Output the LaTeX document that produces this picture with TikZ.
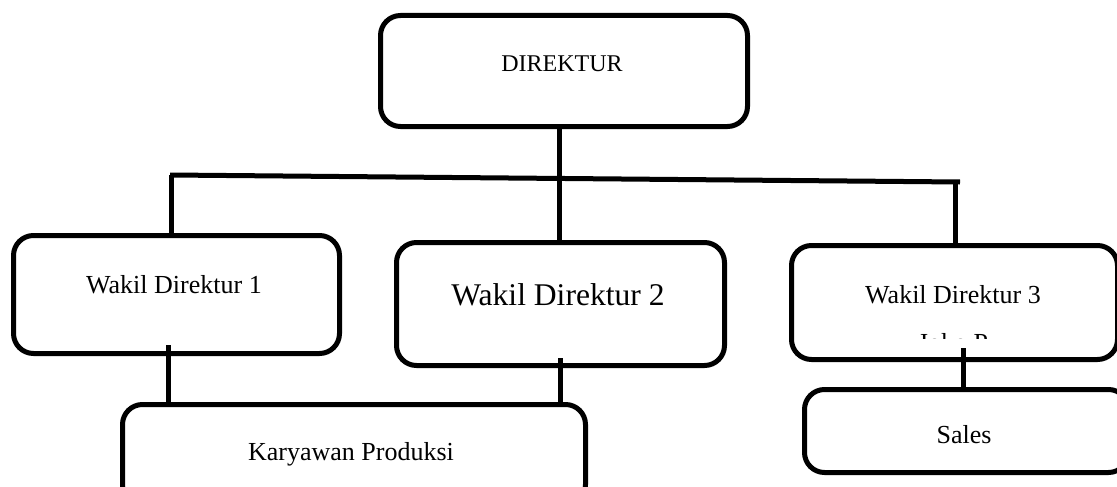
\documentclass[tikz,border=0pt]{standalone}
\usepackage{fontspec}
\setmainfont{Liberation Serif}
\begin{document}
\begin{tikzpicture}[x=1pt,y=-1pt,
  box/.style={draw=black,line width=5pt,rounded corners=20pt,inner sep=0pt,anchor=north west},
  lbl/.style={anchor=base,inner sep=0pt,font=\fontsize{26pt}{31pt}\selectfont},
  conn/.style={line width=5pt,black}]
\useasboundingbox (0,0) rectangle (1117,487);
\clip (0,0) rectangle (1117,487);
\fill[white] (0,0) rectangle (1117,487);
% boxes
\node[box,minimum width=367pt,minimum height=111pt] (dir) at (378,13) {};
\node[box,minimum width=326pt,minimum height=118pt] (w1) at (11,233) {};
\node[box,minimum width=328pt,minimum height=123pt] (w2) at (394,240) {};
\node[box,minimum width=326pt,minimum height=114pt] (w3) at (789,243) {};
\node[box,minimum width=463pt,minimum height=100pt] (kp) at (120,402) {};
\node[box,minimum width=324pt,minimum height=83pt] (sales) at (802,387) {};
% texts
\node[lbl,font=\fontsize{24pt}{29pt}\selectfont] (tdir) at (562,71) {DIREKTUR};
\node[lbl] (tw1) at (174,293) {Wakil Direktur 1};
\node[lbl,font=\fontsize{31.6pt}{38pt}\selectfont] (tw2) at (558,305) {Wakil Direktur 2};
\node[lbl] (tw3) at (953,303) {Wakil Direktur 3};
\begin{scope}
\clip (789,300) rectangle (1115,338);
\node[lbl] (tjoko) at (953,351) {Joko P};
\end{scope}
\node[lbl] (tkp) at (351,460) {Karyawan Produksi};
\node[lbl] (tsales) at (964,443) {Sales};
% connectors
\coordinate (busL) at (170,175);
\coordinate (busR) at (960,182);
\coordinate (busM) at (559,178);
\coordinate (dropL) at (171,175);
\coordinate (dropR) at (955,182);
\draw[conn] (busL) -- (busR);
\draw[conn] (dir.south -| busM) -- (w2.north -| busM);
\draw[conn] (dropL) -- (dropL |- w1.north);
\draw[conn] (dropR) -- (dropR |- w3.north);
\coordinate (c1) at (168,345);
\coordinate (c2) at (560,358);
\coordinate (c3) at (963,348);
\draw[conn] (c1) -- (c1 |- kp.north);
\draw[conn] (c2) -- (c2 |- kp.north);
\draw[conn] (c3) -- (c3 |- sales.north);
\end{tikzpicture}
\end{document}
